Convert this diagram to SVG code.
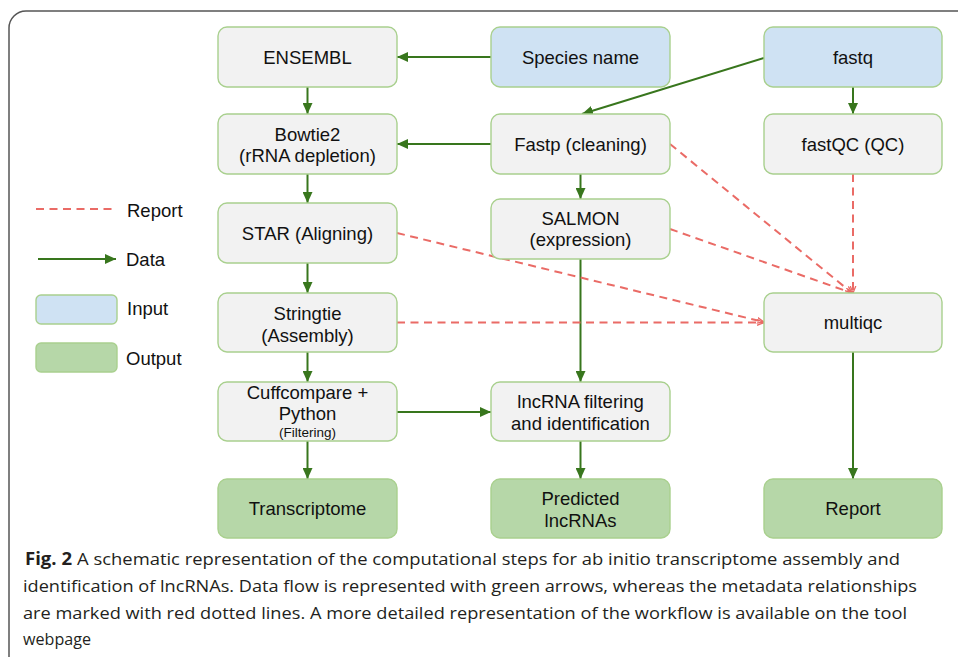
<svg xmlns="http://www.w3.org/2000/svg" width="958" height="657" viewBox="0 0 958 657">
<defs>
<style>
.box{fill:#f2f2f2;stroke:#a9d08e;stroke-width:1.4}
.in{fill:#cfe2f3;stroke:#a9d08e;stroke-width:1.4}
.out{fill:#b6d7a8;stroke:#a9d08e;stroke-width:1.4}
.t{font-family:"Liberation Sans",Arial,sans-serif;font-size:18.5px;fill:#111;text-anchor:middle}
.ts{font-family:"Liberation Sans",Arial,sans-serif;font-size:13.5px;fill:#111;text-anchor:middle}
.lg{font-family:"Liberation Sans",Arial,sans-serif;font-size:18.5px;fill:#111}
.g{stroke:#38761d;stroke-width:2;fill:none}
.r{stroke:#ea6b66;stroke-width:2;fill:none;stroke-dasharray:8 5.5}
.cap{font-family:"Open Sans",sans-serif;font-size:17px;fill:#231f20}
</style>
<marker id="ga" viewBox="0 0 11 10" refX="11" refY="5" markerWidth="11" markerHeight="10" orient="auto" markerUnits="userSpaceOnUse"><path d="M0,0 L11,5 L0,10 z" fill="#38761d"/></marker>
<marker id="ra" viewBox="0 0 8 8" refX="8" refY="4" markerWidth="7" markerHeight="7" orient="auto" markerUnits="userSpaceOnUse"><path d="M0,0.8 L8,4 L0,7.2" fill="none" stroke="#ea6b66" stroke-width="1.5"/></marker>
</defs>
<rect width="958" height="657" fill="#fff"/>
<path d="M9,657 V28 A17,17 0 0 1 26,11 H958" fill="none" stroke="#555" stroke-width="1.5"/>

<g id="connectors">
<line class="g" x1="491" y1="57" x2="397" y2="57" marker-end="url(#ga)"/>
<line class="g" x1="307.5" y1="87" x2="307.5" y2="114" marker-end="url(#ga)"/>
<line class="g" x1="491" y1="144" x2="397" y2="144" marker-end="url(#ga)"/>
<line class="g" x1="764" y1="58" x2="582" y2="114" marker-end="url(#ga)"/>
<line class="g" x1="853" y1="87" x2="853" y2="114" marker-end="url(#ga)"/>
<line class="g" x1="580.5" y1="174" x2="580.5" y2="199" marker-end="url(#ga)"/>
<line class="g" x1="307.5" y1="174" x2="307.5" y2="203" marker-end="url(#ga)"/>
<line class="g" x1="307.5" y1="263" x2="307.5" y2="293" marker-end="url(#ga)"/>
<line class="g" x1="307.5" y1="352" x2="307.5" y2="382" marker-end="url(#ga)"/>
<line class="g" x1="307.5" y1="441" x2="307.5" y2="479" marker-end="url(#ga)"/>
<line class="g" x1="397" y1="412" x2="491" y2="412" marker-end="url(#ga)"/>
<line class="g" x1="580.5" y1="259" x2="580.5" y2="382" marker-end="url(#ga)"/>
<line class="g" x1="580.5" y1="441" x2="580.5" y2="479" marker-end="url(#ga)"/>
<line class="g" x1="853" y1="352" x2="853" y2="479" marker-end="url(#ga)"/>
<line class="r" x1="670" y1="144" x2="852" y2="293" marker-end="url(#ra)"/>
<line class="r" x1="853" y1="174" x2="853" y2="293" marker-end="url(#ra)"/>
<line class="r" x1="670" y1="229" x2="852" y2="293" marker-end="url(#ra)"/>
<line class="r" x1="397" y1="233" x2="764" y2="322" marker-end="url(#ra)"/>
<line class="r" x1="397" y1="322.5" x2="764" y2="322.5" marker-end="url(#ra)"/>
</g>

<g id="ensembl"><rect class="box" x="218" y="27" width="179" height="60" rx="9"/><text class="t" x="307.5" y="64">ENSEMBL</text></g>
<g id="bowtie2"><rect class="box" x="218" y="114" width="179" height="60" rx="9"/><text class="t" x="307.5" y="141">Bowtie2</text><text class="t" x="307.5" y="162">(rRNA depletion)</text></g>
<g id="star"><rect class="box" x="218" y="203" width="179" height="60" rx="9"/><text class="t" x="307.5" y="240">STAR (Aligning)</text></g>
<g id="stringtie"><rect class="box" x="218" y="293" width="179" height="59" rx="9"/><text class="t" x="307.5" y="320">Stringtie</text><text class="t" x="307.5" y="342">(Assembly)</text></g>
<g id="cuffcompare"><rect class="box" x="218" y="382" width="179" height="59" rx="9"/><text class="t" x="307.5" y="399">Cuffcompare +</text><text class="t" x="307.5" y="420">Python</text><text class="ts" x="307.5" y="437">(Filtering)</text></g>
<g id="transcriptome"><rect class="out" x="218" y="479" width="179" height="59" rx="9"/><text class="t" x="307.5" y="515">Transcriptome</text></g>

<g id="species"><rect class="in" x="491" y="27" width="179" height="60" rx="9"/><text class="t" x="580.5" y="64">Species name</text></g>
<g id="fastp"><rect class="box" x="491" y="114" width="179" height="60" rx="9"/><text class="t" x="580.5" y="151">Fastp (cleaning)</text></g>
<g id="salmon"><rect class="box" x="491" y="199" width="179" height="60" rx="9"/><text class="t" x="580.5" y="225">SALMON</text><text class="t" x="580.5" y="246">(expression)</text></g>
<g id="lncrna"><rect class="box" x="491" y="382" width="179" height="59" rx="9"/><text class="t" x="580.5" y="408">lncRNA filtering</text><text class="t" x="580.5" y="430">and identification</text></g>
<g id="predicted"><rect class="out" x="491" y="479" width="179" height="59" rx="9"/><text class="t" x="580.5" y="505">Predicted</text><text class="t" x="580.5" y="527">lncRNAs</text></g>

<g id="fastq"><rect class="in" x="764" y="27" width="178" height="60" rx="9"/><text class="t" x="853" y="64">fastq</text></g>
<g id="fastqc"><rect class="box" x="764" y="114" width="178" height="60" rx="9"/><text class="t" x="853" y="151">fastQC (QC)</text></g>
<g id="multiqc"><rect class="box" x="764" y="293" width="178" height="59" rx="9"/><text class="t" x="853" y="329">multiqc</text></g>
<g id="report"><rect class="out" x="764" y="479" width="178" height="59" rx="9"/><text class="t" x="853" y="515">Report</text></g>

<g id="legend">
<line class="r" x1="36" y1="209" x2="115" y2="209"/>
<text class="lg" x="127" y="217">Report</text>
<line class="g" x1="38" y1="259" x2="116" y2="259" marker-end="url(#ga)"/>
<text class="lg" x="126" y="266">Data</text>
<rect class="in" x="36" y="295" width="81" height="29" rx="5"/>
<text class="lg" x="127" y="315">Input</text>
<rect class="out" x="36" y="343" width="81" height="29" rx="5"/>
<text class="lg" x="126" y="365">Output</text>
</g>

<g id="caption">
<text class="cap" x="25" y="565" font-weight="bold" textLength="47" lengthAdjust="spacingAndGlyphs">Fig. 2</text>
<text class="cap" x="77" y="565" textLength="823" lengthAdjust="spacingAndGlyphs">A schematic representation of the computational steps for ab initio transcriptome assembly and</text>
<text class="cap" x="23" y="592" textLength="894" lengthAdjust="spacingAndGlyphs">identification of lncRNAs. Data flow is represented with green arrows, whereas the metadata relationships</text>
<text class="cap" x="23" y="619" textLength="884" lengthAdjust="spacingAndGlyphs">are marked with red dotted lines. A more detailed representation of the workflow is available on the tool</text>
<text class="cap" x="23" y="645" textLength="68" lengthAdjust="spacingAndGlyphs">webpage</text>
</g>
</svg>
